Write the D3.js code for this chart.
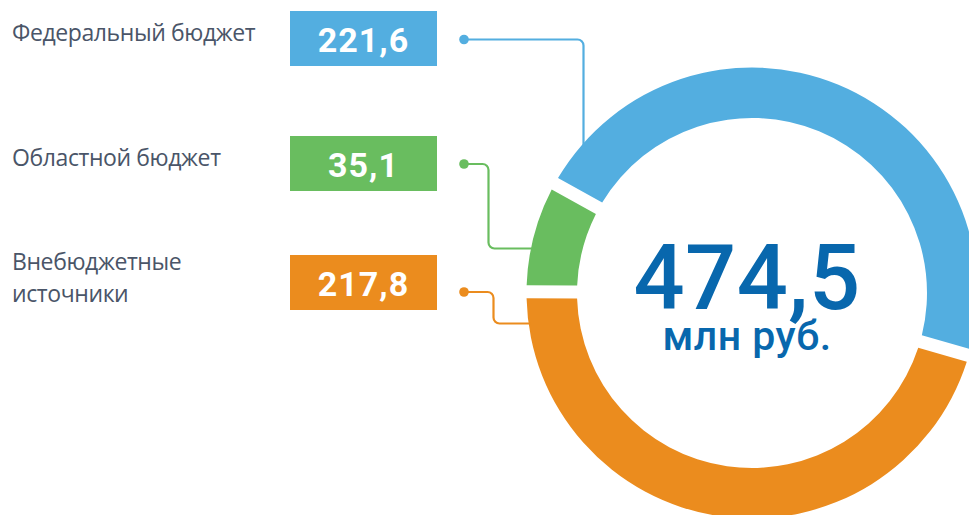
<!DOCTYPE html>
<html>
<head>
<meta charset="utf-8">
<script src="https://cdn.jsdelivr.net/npm/d3@7"></script>
<style>
  html, body { margin: 0; padding: 0; background: #ffffff; }
  svg { display: block; }
</style>
</head>
<body>
<svg id="chart" width="969" height="515"></svg>
<script>
// ---- DATA ----
const categories = ["Федеральный бюджет", "Областной бюджет", "Внебюджетные источники"];
const categoryLines = [["Федеральный бюджет"], ["Областной бюджет"], ["Внебюджетные", "источники"]];
const values = [221.6, 35.1, 217.8];
const valueLabels = ["221,6", "35,1", "217,8"];
const totalLabel = "474,5";
const unitLabel = "млн руб.";

// ---- STYLE / LAYOUT ----
const colors = ["#53aee0", "#69bd5f", "#eb8c1e"];
const centerColor = "#0867ad";
const labelColor = "#4a5568";
const W = 969, H = 515;
const cx = 752, cy = 293, R = 225.5, r = 175;
const startDeg = -61;
const ringOrder = [0, 2, 1]; // clockwise order on the ring

const svg = d3.select("#chart");

// Ring
const pieData = ringOrder.map(i => ({ i, value: values[i] }));
const pie = d3.pie().sort(null).value(d => d.value)
  .startAngle(startDeg * Math.PI / 180)
  .endAngle(startDeg * Math.PI / 180 + 2 * Math.PI)
  .padAngle(13 / Math.sqrt(R * R + r * r));
const arc = d3.arc().innerRadius(r).outerRadius(R);

svg.append("g").attr("transform", `translate(${cx},${cy})`)
  .selectAll("path").data(pie(pieData)).join("path")
  .attr("d", arc)
  .attr("fill", d => colors[d.data.i]);

// Label rows
const boxX = 290, boxW = 147, boxH = 55;
const boxY = [11, 136, 255];
const dotX = 464, dotY = [39.5, 164, 292];
const textX = 12;
const textBaselines = [[41], [165.5], [269.5, 301.5]];

// Left category labels
categoryLines.forEach((lines, i) => {
  lines.forEach((line, j) => {
    svg.append("text")
      .attr("x", textX).attr("y", textBaselines[i][j])
      .attr("fill", labelColor)
      .attr("font-family", "'Open Sans', sans-serif")
      .attr("font-size", 23)
      .attr("letter-spacing", -0.4)
      .text(line);
  });
});

// Value boxes
values.forEach((v, i) => {
  svg.append("rect")
    .attr("x", boxX).attr("y", boxY[i])
    .attr("width", boxW).attr("height", boxH)
    .attr("fill", colors[i]);
  svg.append("text")
    .attr("x", boxX + boxW / 2).attr("y", boxY[i] + 41)
    .attr("text-anchor", "middle")
    .attr("fill", "#ffffff")
    .attr("font-family", "Roboto, sans-serif")
    .attr("font-weight", 700)
    .attr("font-size", 34)
    .attr("letter-spacing", 1)
    .text(valueLabels[i]);
});

// Leader lines
const cr = 6;
function leader(i) {
  const p = d3.path();
  const y0 = dotY[i];
  if (i === 0) {
    const xv = 583.5;
    const yEnd = cy - Math.sqrt(R * R - (xv - cx) * (xv - cx)) + 2;
    p.moveTo(dotX, y0);
    p.lineTo(xv - cr, y0);
    p.arcTo(xv, y0, xv, y0 + cr, cr);
    p.lineTo(xv, yEnd);
  } else {
    const xv = i === 1 ? 488.5 : 493.5;
    const y1 = i === 1 ? 248.5 : 323.5;
    const xEnd = cx - Math.sqrt(R * R - (y1 - cy) * (y1 - cy)) + 2;
    p.moveTo(dotX, y0);
    p.lineTo(xv - cr, y0);
    p.arcTo(xv, y0, xv, y0 + cr, cr);
    p.lineTo(xv, y1 - cr);
    p.arcTo(xv, y1, xv + cr, y1, cr);
    p.lineTo(xEnd, y1);
  }
  return p.toString();
}
values.forEach((v, i) => {
  svg.append("path")
    .attr("d", leader(i))
    .attr("fill", "none")
    .attr("stroke", colors[i])
    .attr("stroke-width", 2.2);
  svg.append("circle")
    .attr("cx", dotX).attr("cy", dotY[i]).attr("r", 4.8)
    .attr("fill", colors[i]);
});

// Center total (one text block with two lines)
const total = d3.sum(values);
const centerText = svg.append("text")
  .attr("text-anchor", "middle")
  .attr("fill", centerColor)
  .attr("font-family", "Roboto, sans-serif")
  .attr("font-weight", 500);
centerText.append("tspan")
  .attr("x", 747).attr("y", 308.5)
  .attr("font-size", 90)
  .attr("letter-spacing", 0.5)
  .text(d3.format(".1f")(total).replace(".", ","));
centerText.append("tspan")
  .attr("x", 747).attr("y", 350)
  .attr("font-size", 41)
  .attr("letter-spacing", 0.5)
  .text(unitLabel);
</script>
</body>
</html>
